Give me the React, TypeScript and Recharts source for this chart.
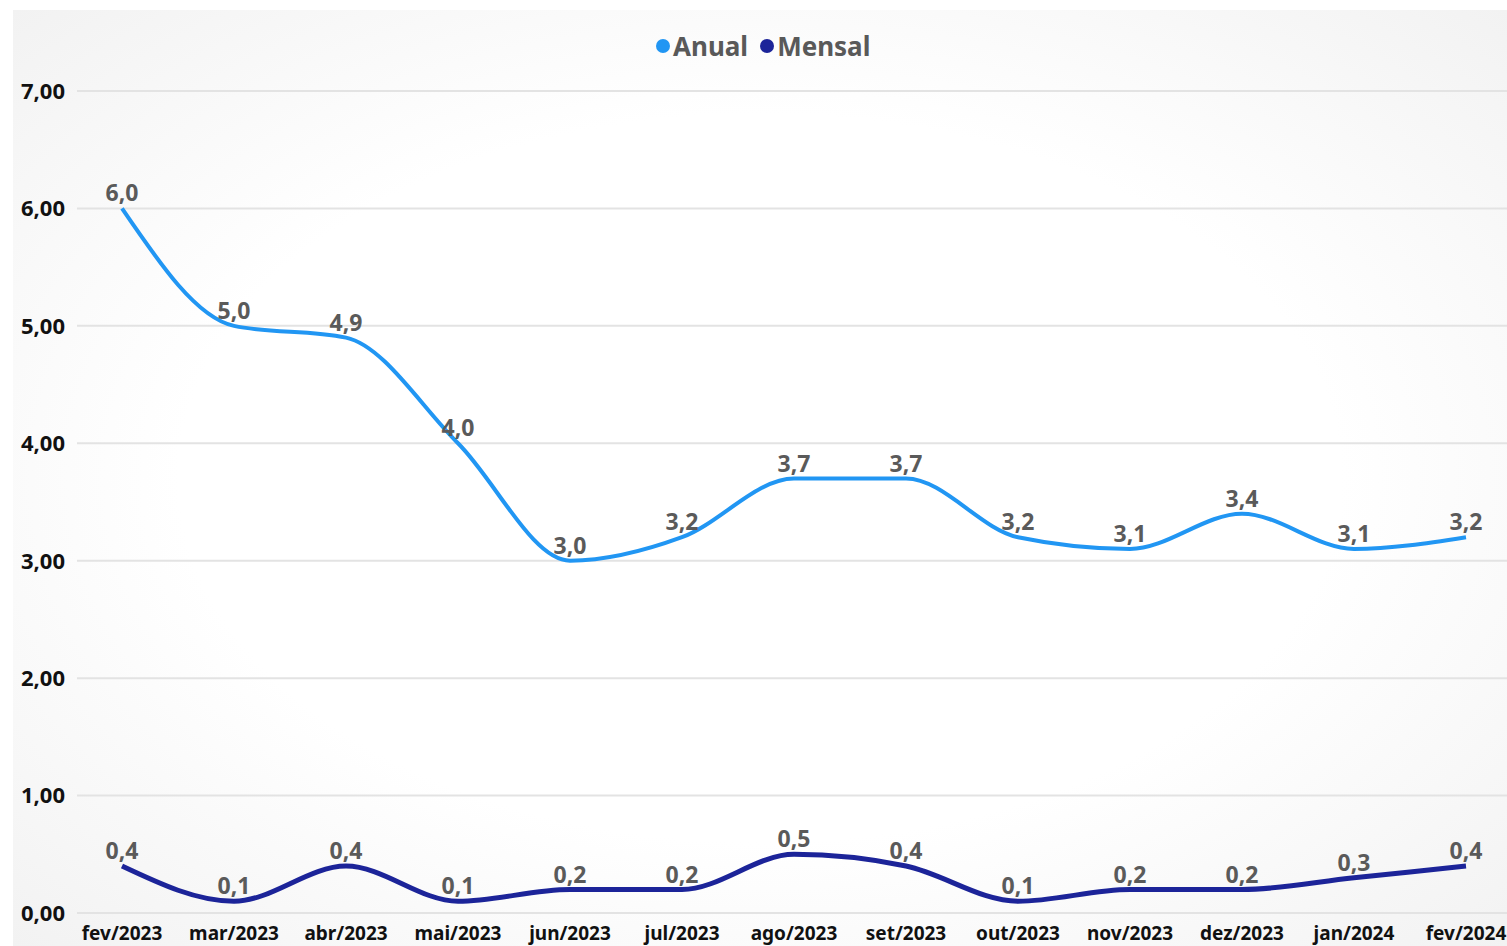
import { LineChart, Line, XAxis, YAxis, CartesianGrid, LabelList } from 'recharts';

const months = ['fev/2023', 'mar/2023', 'abr/2023', 'mai/2023', 'jun/2023', 'jul/2023', 'ago/2023', 'set/2023', 'out/2023', 'nov/2023', 'dez/2023', 'jan/2024', 'fev/2024'];
const anual = [6.0, 5.0, 4.9, 4.0, 3.0, 3.2, 3.7, 3.7, 3.2, 3.1, 3.4, 3.1, 3.2];
const mensal = [0.4, 0.1, 0.4, 0.1, 0.2, 0.2, 0.5, 0.4, 0.1, 0.2, 0.2, 0.3, 0.4];
const yTicks = [0, 1, 2, 3, 4, 5, 6, 7];

const COLORS = {
  anual: '#2196F3',
  mensal: '#1C2499',
};

const FONT = '"Noto Sans", "Open Sans", sans-serif';

const data = months.map((m, i) => ({ mes: m, anual: anual[i], mensal: mensal[i] }));

const fmt1 = (v: any) => Number(v).toFixed(1).replace('.', ',');
const fmt2 = (v: any) => Number(v).toFixed(2).replace('.', ',');

// legend drawn as plain html so it doesn't push the plot area down
function LegendBox() {
  const items = [
    { name: 'Anual', color: COLORS.anual },
    { name: 'Mensal', color: COLORS.mensal },
  ];
  return (
    <div
      style={{
        position: 'absolute',
        left: 656,
        top: 28,
        display: 'flex',
        gap: 12,
        fontFamily: FONT,
      }}
    >
      {items.map((it) => (
        <div key={it.name} style={{ display: 'flex', alignItems: 'center', gap: 3 }}>
          <span style={{ width: 14, height: 14, borderRadius: 7, background: it.color, display: 'inline-block' }} />
          <span style={{ color: '#595959', fontWeight: 700, fontSize: 26, lineHeight: '36px' }}>{it.name}</span>
        </div>
      ))}
    </div>
  );
}

const labelStyle = { fill: '#5a5a5a', fontSize: 23, fontWeight: 700, fontFamily: FONT };

export default function App() {
  return (
    <div style={{ position: 'absolute', left: 0, top: 0, width: 1507, height: 946, background: '#fff' }}>
      <div
        style={{
          position: 'absolute',
          left: 13,
          top: 10,
          width: 1494,
          height: 936,
          background: 'radial-gradient(ellipse at 50% 50%, #ffffff 55%, #f2f2f2 100%)',
        }}
      />
      <LegendBox />
      <div style={{ position: 'absolute', left: 0, top: 0 }}>
        <LineChart width={1507} height={946} data={data} margin={{ top: 91, right: 0, bottom: 0, left: 0 }}>
          <CartesianGrid vertical={false} stroke="#e3e3e3" strokeWidth={2} />
          <XAxis
            dataKey="mes"
            height={33}
            axisLine={false}
            tickLine={false}
            interval={0}
            padding={{ left: 45, right: 41 }}
            scale="point"
            tick={{ fill: '#111', fontSize: 19, fontWeight: 700, fontFamily: FONT }}
            tickMargin={8}
          />
          <YAxis
            width={77}
            domain={[0, 7]}
            ticks={yTicks}
            axisLine={false}
            tickLine={false}
            tickMargin={6}
            tickFormatter={fmt2}
            tick={{ fill: '#111', fontSize: 22, fontWeight: 700, fontFamily: FONT }}
          />
          <Line
            type="monotone"
            dataKey="anual"
            name="Anual"
            stroke={COLORS.anual}
            strokeWidth={4}
            dot={false}
            isAnimationActive={false}
          >
            <LabelList dataKey="anual" position="top" offset={7} formatter={fmt1} style={labelStyle} />
          </Line>
          <Line
            type="monotone"
            dataKey="mensal"
            name="Mensal"
            stroke={COLORS.mensal}
            strokeWidth={5}
            dot={false}
            isAnimationActive={false}
          >
            <LabelList dataKey="mensal" position="top" offset={7} formatter={fmt1} style={labelStyle} />
          </Line>
        </LineChart>
      </div>
    </div>
  );
}
